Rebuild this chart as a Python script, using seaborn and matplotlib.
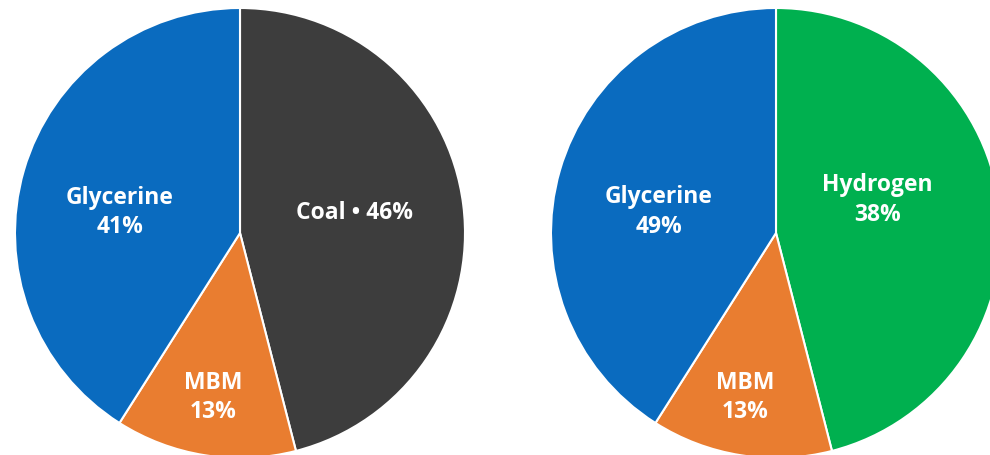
import matplotlib
matplotlib.use("Agg")
import matplotlib.pyplot as plt
import seaborn as sns

# Dữ liệu hai biểu đồ tròn (thứ tự theo chiều kim đồng hồ, bắt đầu từ đỉnh)
left_names = ["Coal", "MBM", "Glycerine"]
left_shares = [46, 13, 41]
left_labels = ["Coal • 46%", "MBM\n13%", "Glycerine\n41%"]

right_names = ["Hydrogen", "MBM", "Glycerine"]
# the source draws the wedges at the same sizes as the left chart,
# even though its printed percentages are 38 / 13 / 49
right_shares = [46, 13, 41]
right_labels = ["Hydrogen\n38%", "MBM\n13%", "Glycerine\n49%"]

colors = {
    "Coal": "#3d3d3d",
    "MBM": "#e97d30",
    "Glycerine": "#0a6bbf",
    "Hydrogen": "#00b04f",
}

sns.set_theme(style="white")
plt.rcParams["font.family"] = ["Open Sans", "DejaVu Sans"]

W, H = 990, 455
fig = plt.figure(figsize=(W / 100, H / 100), dpi=100)

# vị trí nhãn bên trong mỗi hình tròn (đơn vị bán kính)
left_pos = [(0.51, 0.09), (-0.12, -0.73), (-0.535, 0.09)]
right_pos = [(0.45, 0.147), (-0.138, -0.73), (-0.52, 0.093)]


def draw_pie(cx, cy, r, names, shares, labels, pos):
    ax = fig.add_axes([(cx - r) / W, (H - cy - r) / H, 2 * r / W, 2 * r / H])
    ax.pie(shares, colors=[colors[n] for n in names], startangle=90,
           counterclock=False, radius=1,
           wedgeprops=dict(edgecolor="white", linewidth=1.5))
    for lab, (x, y) in zip(labels, pos):
        ax.text(x, y, lab, ha="center", va="center", color="white",
                fontsize=16.5, fontweight="bold", linespacing=1.3)
    ax.set_xlim(-1, 1)
    ax.set_ylim(-1, 1)
    ax.set_aspect("equal")
    ax.axis("off")
    return ax


draw_pie(240, 233, 225, left_names, left_shares, left_labels, left_pos)
draw_pie(776, 233, 225, right_names, right_shares, right_labels, right_pos)

fig.savefig("out.png", dpi=100, facecolor="white")
